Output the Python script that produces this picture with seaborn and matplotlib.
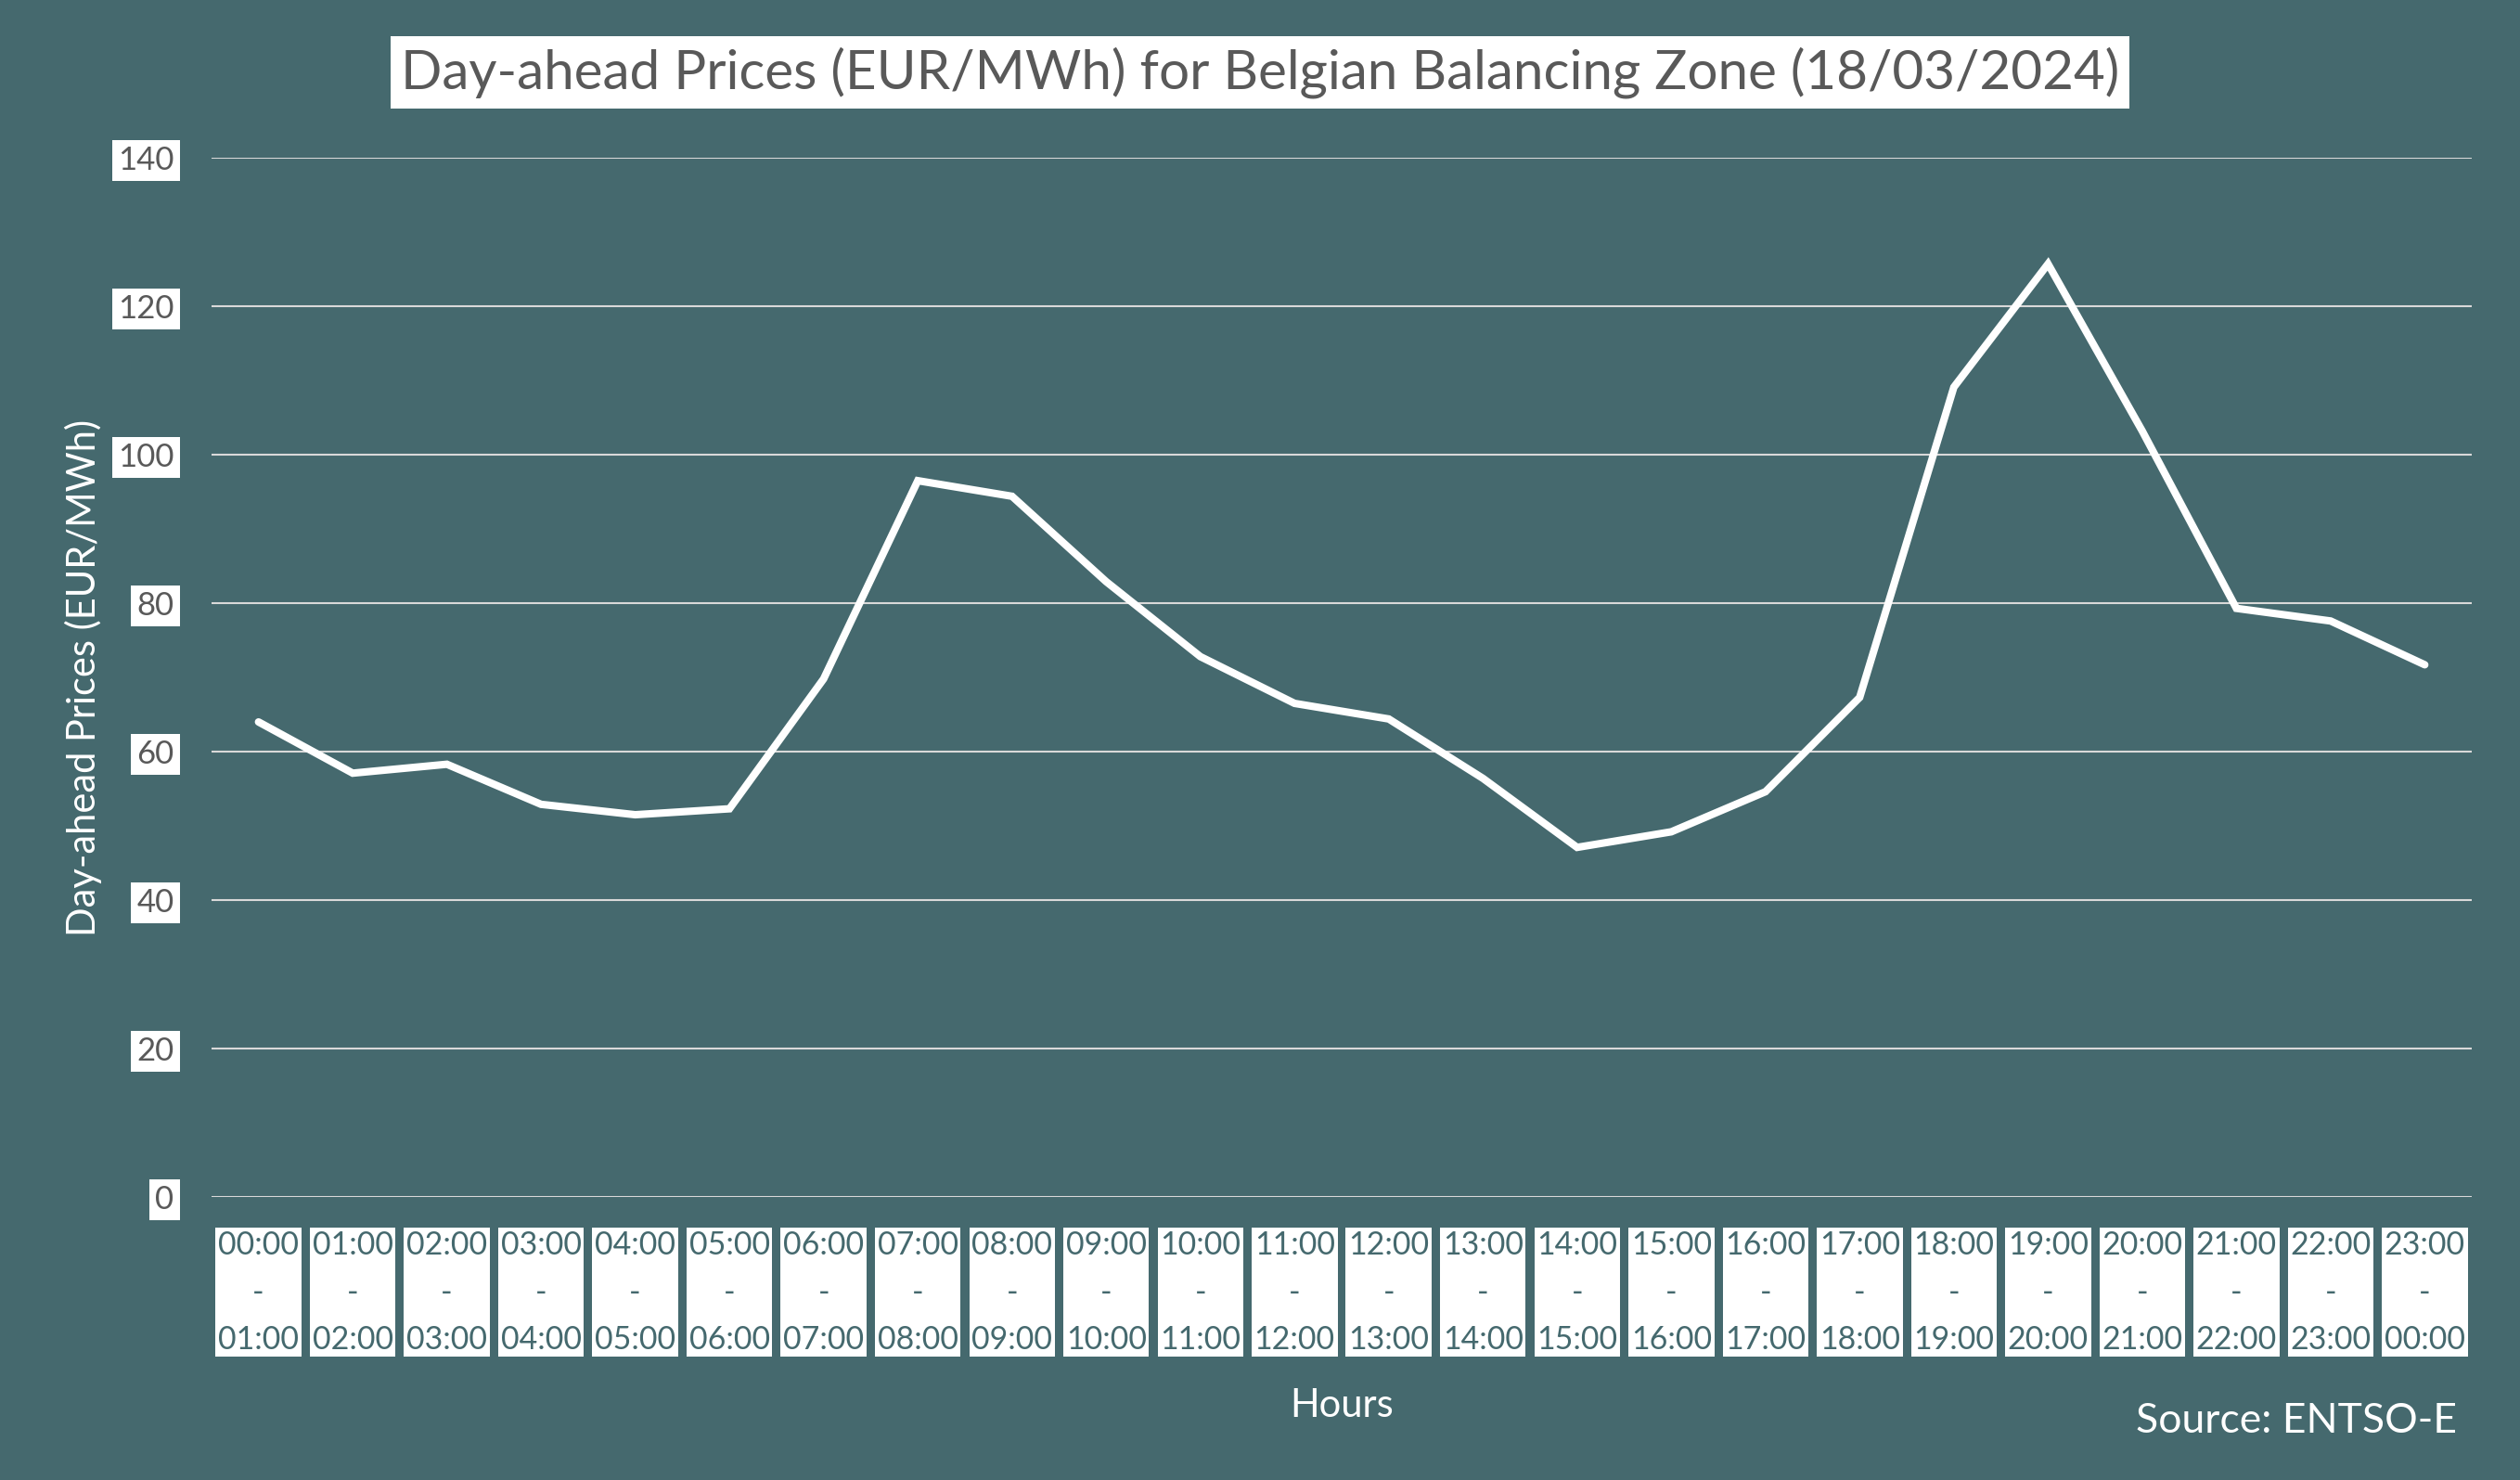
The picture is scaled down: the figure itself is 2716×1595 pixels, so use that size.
import matplotlib
matplotlib.use("Agg")
import matplotlib.pyplot as plt
import seaborn as sns
import pandas as pd
import numpy as np

# ---- data ----
hour_starts = ["00:00", "01:00", "02:00", "03:00", "04:00", "05:00", "06:00", "07:00",
               "08:00", "09:00", "10:00", "11:00", "12:00", "13:00", "14:00", "15:00",
               "16:00", "17:00", "18:00", "19:00", "20:00", "21:00", "22:00", "23:00"]
hour_ends = ["01:00", "02:00", "03:00", "04:00", "05:00", "06:00", "07:00", "08:00",
             "09:00", "10:00", "11:00", "12:00", "13:00", "14:00", "15:00", "16:00",
             "17:00", "18:00", "19:00", "20:00", "21:00", "22:00", "23:00", "00:00"]
prices = [64.0, 57.1, 58.3, 52.9, 51.5, 52.3, 69.8, 96.5, 94.4, 82.9, 72.8, 66.5,
          64.4, 56.4, 47.1, 49.2, 54.6, 67.3, 109.1, 125.7, 103.2, 79.3, 77.6, 71.7]
y_ticks = [0, 20, 40, 60, 80, 100, 120, 140]

BG = "#45696E"
TEXT_GRAY = "#595959"

sns.set_theme(style="white")
plt.rcParams["font.family"] = ["Lato", "DejaVu Sans"]

df = pd.DataFrame({"idx": np.arange(len(prices)), "price": prices})
labels = [f"{a}\n-\n{b}" for a, b in zip(hour_starts, hour_ends)]

fig = plt.figure(figsize=(13.58, 7.975), dpi=200, facecolor=BG)
ax = fig.add_axes([0.0839, 0.1912, 0.9809 - 0.0839, 0.8934 - 0.1912])
ax.set_facecolor(BG)

sns.lineplot(data=df, x="idx", y="price", ax=ax, color="white", linewidth=2.9,
             solid_capstyle="round", solid_joinstyle="miter", zorder=3)

ax.set_xlim(-0.5, len(prices) - 0.5)
ax.set_ylim(0, 140)
ax.set_yticks(y_ticks)
ax.set_yticklabels([str(v) for v in y_ticks])
ax.set_xticks(np.arange(len(prices)))
ax.set_xticklabels(labels, linespacing=1.72)

ax.grid(axis="y", color="#D9D9D9", linewidth=0.75, zorder=1)
ax.grid(axis="x", visible=False)
for s in ax.spines.values():
    s.set_visible(False)

ax.tick_params(axis="y", length=0, pad=14.5, labelsize=12.5, labelcolor=TEXT_GRAY)
ax.tick_params(axis="x", length=0, pad=13, labelsize=12.2, labelcolor=BG)
for lbl in ax.get_yticklabels():
    lbl.set_bbox(dict(facecolor="white", edgecolor="none", pad=2.2))
for lbl in ax.get_xticklabels():
    lbl.set_bbox(dict(facecolor="white", edgecolor="none", pad=1.0))

ax.set_xlabel("Hours", color="white", fontsize=15, labelpad=13)
ax.set_ylabel("Day-ahead Prices (EUR/MWh)", color="white", fontsize=15, labelpad=6)

fig.text(0.5, 0.951, "Day-ahead Prices (EUR/MWh) for Belgian Balancing Zone (18/03/2024)",
         ha="center", va="center", fontsize=21, color=TEXT_GRAY,
         bbox=dict(facecolor="white", edgecolor="none", pad=4))

fig.text(0.975, 0.040, "Source: ENTSO-E", ha="right", va="center", fontsize=16, color="white")

fig.savefig("out.png", dpi=200, facecolor=BG)
